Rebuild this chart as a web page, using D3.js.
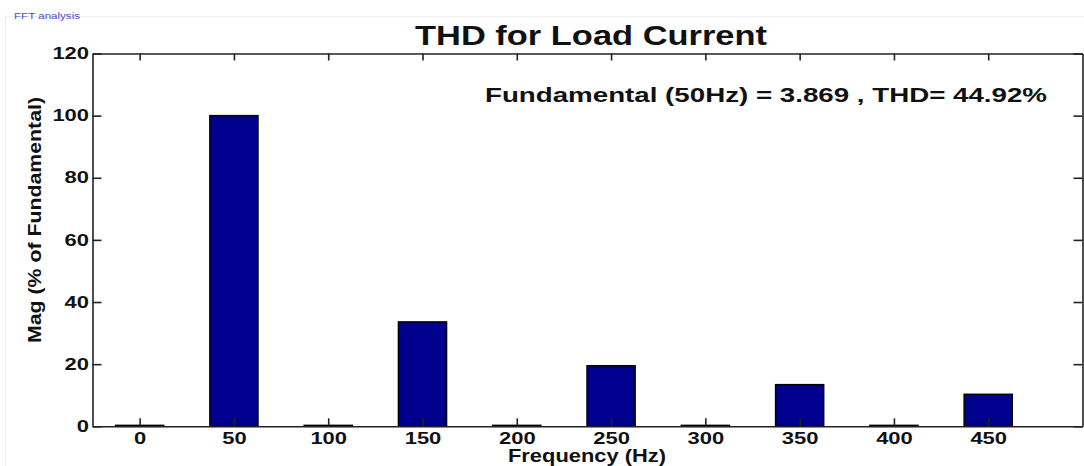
<!DOCTYPE html>
<html>
<head>
<meta charset="utf-8">
<script src="https://cdn.jsdelivr.net/npm/d3@7"></script>
<style>
  body { margin: 0; background: #fff; }
  text { font-family: "Liberation Sans", Arial, sans-serif; }
</style>
</head>
<body>
<div class="container"></div>
<script>
const width = 1084,
    height = 466;

// harmonic frequencies (Hz) and magnitudes (% of fundamental)
const freqs = [0, 50, 100, 150, 200, 250, 300, 350, 400, 450];
const mags = [0.3, 100, 0.3, 33.6, 0.3, 19.5, 0.3, 13.4, 0.3, 10.3];
const yTicks = [0, 20, 40, 60, 80, 100, 120];
const xTicks = [0, 50, 100, 150, 200, 250, 300, 350, 400, 450];

const margin = {left: 92.5, right: 1.5, top: 53.5, bottom: 39.5};
const digitW = 12.2; // the original lettering is drawn wide

const svg = d3.select('.container')
    .append('svg')
    .attr('width', width)
    .attr('height', height);

svg.append('rect')
    .attr('width', width)
    .attr('height', height)
    .attr('fill', '#fff');

// faint panel frame
svg.append('rect')
    .attr('x', 5.5)
    .attr('y', 16.5)
    .attr('width', width)
    .attr('height', height)
    .attr('fill', 'none')
    .attr('stroke', '#f0f0f0');

svg.append('text')
    .attr('x', 14)
    .attr('y', 19)
    .attr('font-size', 8.5)
    .attr('fill', '#4a4ac8')
    .attr('textLength', 66)
    .attr('lengthAdjust', 'spacingAndGlyphs')
    .text('FFT analysis');

const x = d3.scaleLinear()
    .domain([-25, 500])
    .range([margin.left, width - margin.right]);

const y = d3.scaleLinear()
    .domain([0, 120])
    .range([height - margin.bottom - 0.2, margin.top]);

const barW = x(25.5) - x(0);

svg.selectAll('.bar')
    .data(freqs)
    .enter()
    .append('rect')
    .attr('class', 'bar')
    .attr('x', d => x(d) - barW / 2)
    .attr('y', (d, i) => y(mags[i]))
    .attr('width', barW)
    .attr('height', (d, i) => y(0) - y(mags[i]))
    .attr('fill', '#00008f')
    .attr('stroke', '#000')
    .attr('stroke-width', 1.5);

// axes with inward ticks on all four sides
const axisStyle = g => {
    g.selectAll('path').attr('stroke', '#222').attr('stroke-width', 1.6);
    g.selectAll('line').attr('stroke', '#222').attr('stroke-width', 1.6);
    g.selectAll('text')
        .attr('font-size', 16)
        .attr('font-weight', 'bold')
        .attr('fill', '#111')
        .attr('textLength', d => String(d).length * digitW)
        .attr('lengthAdjust', 'spacingAndGlyphs');
};

svg.append('g')
    .attr('transform', `translate(0,${y(0)})`)
    .call(d3.axisBottom(x).tickValues(xTicks).tickSizeInner(-8).tickSizeOuter(0).tickPadding(6.5))
    .call(axisStyle);

svg.append('g')
    .attr('transform', `translate(0,${margin.top})`)
    .call(d3.axisTop(x).tickValues(xTicks).tickSizeInner(-7).tickSizeOuter(0).tickFormat(''))
    .call(axisStyle);

svg.append('g')
    .attr('transform', `translate(${margin.left},0)`)
    .call(d3.axisLeft(y).tickValues(yTicks).tickSizeInner(-9).tickSizeOuter(0).tickPadding(3.5))
    .call(axisStyle);

svg.append('g')
    .attr('transform', `translate(${width - margin.right},0)`)
    .call(d3.axisRight(y).tickValues(yTicks).tickSizeInner(-9).tickSizeOuter(0).tickFormat(''))
    .call(axisStyle);

svg.append('text')
    .attr('x', 415)
    .attr('y', 45)
    .attr('font-size', 28)
    .attr('font-weight', 'bold')
    .attr('fill', '#111')
    .attr('textLength', 352)
    .attr('lengthAdjust', 'spacingAndGlyphs')
    .text('THD for Load Current');

svg.append('text')
    .attr('x', 485)
    .attr('y', 102)
    .attr('font-size', 21)
    .attr('font-weight', 'bold')
    .attr('fill', '#111')
    .attr('textLength', 562)
    .attr('lengthAdjust', 'spacingAndGlyphs')
    .text('Fundamental (50Hz) = 3.869 , THD= 44.92%');

svg.append('text')
    .attr('x', 508)
    .attr('y', 462)
    .attr('font-size', 18)
    .attr('font-weight', 'bold')
    .attr('fill', '#111')
    .attr('textLength', 158)
    .attr('lengthAdjust', 'spacingAndGlyphs')
    .text('Frequency (Hz)');

svg.append('text')
    .attr('transform', 'translate(41,220) rotate(-90)')
    .attr('text-anchor', 'middle')
    .attr('font-size', 19)
    .attr('font-weight', 'bold')
    .attr('fill', '#111')
    .attr('textLength', 246)
    .attr('lengthAdjust', 'spacingAndGlyphs')
    .text('Mag (% of Fundamental)');
</script>
</body>
</html>
